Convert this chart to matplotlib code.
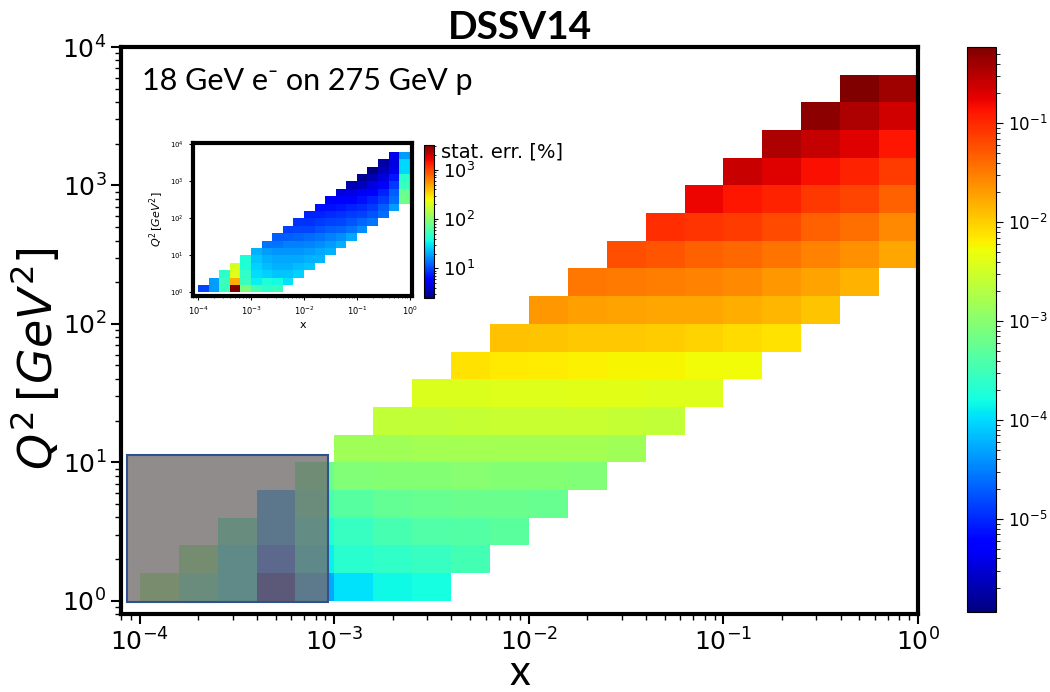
import numpy as np
import matplotlib.pyplot as plt
from matplotlib.colors import LogNorm
from matplotlib.patches import Rectangle

# bins: 5 per decade in x (1e-4 .. 1) and in Q^2 (1 .. 10^3.8)
x_edges = np.logspace(-4, 0, 21)
q2_edges = np.logspace(0, 3.8, 20)

# asymmetry per Q^2 row; row k starts at x bin k
asym_rows = [
    [1.07e-3, 3.3e-4, 1.5e-4, 1.7e-6, 5.2e-5, 1.07e-4, 1.5e-4, 1.65e-4],
    [8.2e-4, 1.5e-4, 1.6e-5, 1.3e-4, 2.2e-4, 2.5e-4, 2.8e-4, 3.3e-4],
    [2.9e-4, 4.4e-5, 1.9e-4, 2.8e-4, 3.6e-4, 4.1e-4, 4.4e-4, 4.7e-4],
    [4.4e-5, 3.7e-4, 4.5e-4, 5.5e-4, 5.9e-4, 6.3e-4, 6.3e-4, 5.9e-4],
    [6.3e-4, 8.8e-4, 9.4e-4, 9.4e-4, 1.0e-3, 9.4e-4, 9.4e-4, 8.8e-4],
    [1.5e-3, 1.5e-3, 1.6e-3, 1.6e-3, 1.6e-3, 1.6e-3, 1.55e-3, 1.5e-3],
    [2.45e-3, 2.5e-3, 2.6e-3, 2.7e-3, 2.7e-3, 2.7e-3, 2.6e-3, 2.5e-3],
    [3.7e-3, 3.8e-3, 4.0e-3, 4.0e-3, 4.1e-3, 4.1e-3, 4.0e-3, 3.9e-3],
    [7.6e-3, 6.9e-3, 6.5e-3, 6.3e-3, 6.1e-3, 5.8e-3, 5.5e-3, 5.3e-3],
    [1.25e-2, 1.14e-2, 1.11e-2, 1.08e-2, 1.05e-2, 9.5e-3, 8.4e-3, 7.6e-3],
    [2.14e-2, 1.98e-2, 1.88e-2, 1.78e-2, 1.74e-2, 1.58e-2, 1.41e-2, 1.14e-2],
    [3.4e-2, 3.2e-2, 3.05e-2, 2.86e-2, 2.58e-2, 2.14e-2, 1.83e-2, 1.48e-2],
    [5.9e-2, 5.3e-2, 4.7e-2, 4.2e-2, 3.6e-2, 2.86e-2, 2.4e-2, 1.74e-2],
    [9.7e-2, 8.7e-2, 7.9e-2, 6.3e-2, 4.7e-2, 3.8e-2, 2.7e-2],
    [0.164, 0.13, 0.109, 8.3e-2, 7.0e-2, 4.7e-2],
    [0.247, 0.195, 0.144, 0.109, 7.9e-2],
    [0.339, 0.26, 0.195, 0.13],
    [0.497, 0.339, 0.225],
    [0.59, 0.397],
]

# statistical error [%] for the inset, same layout
err_rows = [
    [10, 18.6, 51, 3200, 89, 55, 45, 50],
    [18.6, 50, 440, 50, 33, 40, 36, 30],
    [45, 210, 46, 28.5, 26.5, 24.5, 24.5, 26.5],
    [200, 40, 26.5, 23, 21, 21, 23, 24.5],
    [40, 24.5, 21, 20, 20, 20, 21, 22],
    [21, 18.6, 17.5, 17.5, 17.5, 18.6, 20, 21],
    [14, 14, 15, 15, 15.6, 16.5, 18.6, 21],
    [11.7, 11.7, 12.4, 13.2, 14, 15, 16.5, 20],
    [9.7, 10, 10, 11, 11.7, 12.4, 14, 16.5],
    [8.7, 8.7, 9.2, 9.7, 10, 11, 12.4, 14],
    [7.7, 7.7, 8.2, 8.7, 9.2, 9.7, 11, 13.2],
    [6.8, 6.8, 7.2, 7.7, 8.2, 9.2, 11.7, 18.6],
    [5.6, 5.8, 6.0, 6.8, 7.7, 9.2, 13.2, 78],
    [4.5, 4.7, 5.2, 6.0, 7.7, 11.7, 75],
    [3.4, 3.8, 4.7, 6.0, 9.2, 50],
    [2.8, 3.4, 4.5, 7.2, 45],
    [2.5, 3.6, 5.0, 28],
    [3.2, 4.5, 28],
    [5.0, 18.6],
]


def to_grid(rows):
    grid = np.full((len(q2_edges) - 1, len(x_edges) - 1), np.nan)
    for k, row in enumerate(rows):
        grid[k, k:k + len(row)] = row
    return np.ma.masked_invalid(grid)


fig = plt.figure(figsize=(10.5, 6.92), dpi=100)

# main panel
ax = fig.add_axes([0.1152, 0.1127, 0.7591, 0.8193])
mesh = ax.pcolormesh(x_edges, q2_edges, to_grid(asym_rows), cmap='jet',
                     norm=LogNorm(1.15e-6, 0.59))
ax.set_xscale('log')
ax.set_yscale('log')
ax.set_xlim(8e-5, 1)
ax.set_ylim(0.8, 1e4)
for s in ax.spines.values():
    s.set_linewidth(3)
ax.tick_params(which='major', labelsize=18, length=7, width=1.5)
ax.tick_params(which='minor', length=4, width=1)
ax.set_xlabel('x', fontsize=30, family='Lato', labelpad=-1)
ax.set_ylabel(r'$Q^2\,[GeV^2]$', fontsize=33)
ax.yaxis.set_label_coords(-0.074, 0.45)
ax.set_title('DSSV14', fontsize=28, fontweight='bold', family='Lato', pad=6)
ax.text(0.026, 0.965, '18 GeV e\u207b on 275 GeV p', transform=ax.transAxes,
        fontsize=22, family=['Lato', 'DejaVu Sans'], va='top', ha='left')

# shaded low-x region
ax.add_patch(Rectangle((8.6e-5, 0.97), 9.3e-4 - 8.6e-5, 11.2 - 0.97,
                       facecolor=(0.455, 0.435, 0.435, 0.8),
                       edgecolor='#2F528F', lw=1.5, zorder=3))

cax = fig.add_axes([0.921, 0.1156, 0.0276, 0.8165])
cb = fig.colorbar(mesh, cax=cax)
cb.ax.tick_params(which='major', labelsize=12, length=5)
cb.ax.tick_params(which='minor', length=3)

# inset: statistical errors
axi = fig.add_axes([0.1838, 0.5723, 0.2086, 0.2211])
mesh2 = axi.pcolormesh(x_edges, q2_edges, to_grid(err_rows), cmap='jet',
                       norm=LogNorm(2.5, 3200))
axi.set_xscale('log')
axi.set_yscale('log')
axi.set_xlim(8e-5, 1.1)
axi.set_ylim(0.8, 1.1e4)
for s in axi.spines.values():
    s.set_linewidth(3)
axi.tick_params(axis='x', which='major', labelsize=6, length=3, width=0.8)
axi.tick_params(axis='y', which='major', labelsize=5, length=3, width=0.8)
axi.tick_params(which='minor', length=1.5, width=0.5)
axi.set_xlabel('x', fontsize=8, labelpad=2)
axi.set_ylabel(r'$Q^2\,[GeV^2]$', fontsize=8, labelpad=3)

cax2 = fig.add_axes([0.4038, 0.5694, 0.0095, 0.2211])
cb2 = fig.colorbar(mesh2, cax=cax2)
cb2.ax.tick_params(which='major', labelsize=13, length=3)
cb2.ax.tick_params(which='minor', length=1.5)
fig.text(441 / 1050, 1 - 152 / 692, 'stat. err. [%]', fontsize=14, va='center')

fig.savefig('out.png', dpi=100)
